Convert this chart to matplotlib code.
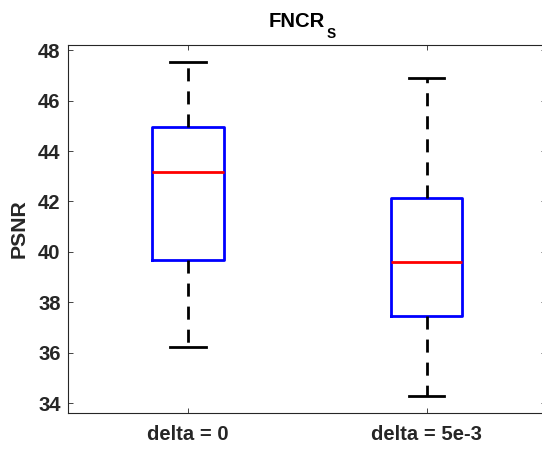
import matplotlib
matplotlib.use("Agg")
import matplotlib.pyplot as plt

# =========================
# Data
# =========================
labels = ["delta = 0", "delta = 5e-3"]
whislo = [36.24, 34.30]
q1 = [39.68, 37.47]
med = [43.18, 39.59]
q3 = [44.96, 42.12]
whishi = [47.54, 46.88]

stats = []
for i in range(len(labels)):
    stats.append({
        "label": labels[i],
        "whislo": whislo[i],
        "q1": q1[i],
        "med": med[i],
        "q3": q3[i],
        "whishi": whishi[i],
        "fliers": [],
    })

# =========================
# Style
# =========================
plt.rcParams["font.family"] = ["Liberation Sans", "DejaVu Sans"]
plt.rcParams["font.weight"] = "bold"

fig = plt.figure(figsize=(5.42, 4.51), dpi=100)
# right spine sits just outside the image, as in the reference
ax = fig.add_axes([0.126, 0.0849, 0.8814, 0.8164])

ax.bxp(
    stats,
    positions=[1, 2],
    widths=0.30,
    showfliers=False,
    boxprops=dict(color="#0000ff", linewidth=2),
    medianprops=dict(color="#ff0000", linewidth=2),
    whiskerprops=dict(color="black", linewidth=2, linestyle=(0, (4.7, 3.6))),
    capprops=dict(color="black", linewidth=2),
    capwidths=0.15,
)

ax.set_xlim(0.5, 2.5)
ax.set_ylim(33.63, 48.22)
ax.set_yticks([34, 36, 38, 40, 42, 44, 46, 48])
ax.set_xticks([1, 2])
ax.set_xticklabels(labels)

ax.tick_params(direction="in", length=3.3, width=0.6, colors="#262626",
               labelsize=14.6, top=True, right=True)
ax.tick_params(axis="y", pad=5.5)
ax.tick_params(axis="x", pad=8.5)
for lab in ax.get_xticklabels() + ax.get_yticklabels():
    lab.set_fontweight("bold")
    lab.set_color("#262626")
for sp in ax.spines.values():
    sp.set_color("#262626")
    sp.set_linewidth(0.8)

# title: FNCR with subscript S
title = ax.annotate("FNCR", xy=(0.4222, 1), xycoords="axes fraction",
                    xytext=(-1, 17.2), textcoords="offset pixels",
                    ha="left", va="baseline", fontsize=14.6,
                    fontweight="bold", color="black")
ax.annotate("S", xy=(1, 0), xycoords=title,
            xytext=(1.5, -7), textcoords="offset pixels",
            ha="left", va="baseline", fontsize=9.8, fontweight="bold",
            color="black")

ax.set_ylabel("PSNR", fontsize=15.3, fontweight="bold", labelpad=7,
              color="#262626")

fig.savefig("out.png", dpi=100)
